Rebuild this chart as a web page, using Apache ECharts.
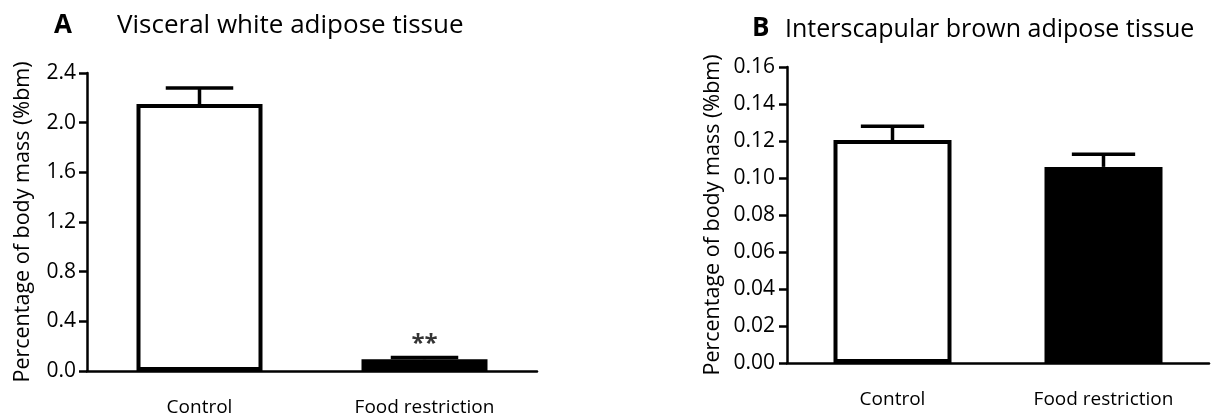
<!DOCTYPE html>
<html><head><meta charset="utf-8">
<script src="https://cdn.jsdelivr.net/npm/echarts@6/dist/echarts.min.js"></script>
<style>html,body{margin:0;padding:0;background:#fff}#c{width:1232px;height:417px}</style>
</head><body><div id="c"></div>
<script>
const categories = ['Control', 'Food restriction'];
// Panel A: visceral white adipose tissue (%bm)
const watMean = [2.15, 0.095];
const watErr = [0.13, 0.013];
const watSig = ['', '**'];
const watTicks = [0, 0.4, 0.8, 1.2, 1.6, 2.0, 2.4];
// Panel B: interscapular brown adipose tissue (%bm)
const batMean = [0.1205, 0.106];
const batErr = [0.0075, 0.0068];
const batTicks = [0, 0.02, 0.04, 0.06, 0.08, 0.10, 0.12, 0.14, 0.16];
const barColors = ['#ffffff', '#000000'];
const yName = 'Percentage of body mass (%bm)';

const FONT = 'Open Sans';
const chart = echarts.init(document.getElementById('c'));

function errItem(params, api) {
  const x = api.value(0), y = api.value(1), e = api.value(2);
  const base = api.coord([x, y]);
  const top = api.coord([x, y + e]);
  const hw = api.size([1, 0])[0] * 0.15;
  const st = {stroke: '#000', lineWidth: 3.5};
  return {type: 'group', children: [
    {type: 'line', shape: {x1: base[0], y1: base[1], x2: top[0], y2: top[1]}, style: st},
    {type: 'line', shape: {x1: top[0] - hw, y1: top[1], x2: top[0] + hw, y2: top[1]}, style: st}
  ]};
}

function xAx(gi) {
  return {
    type: 'category', gridIndex: gi, data: categories,
    axisLine: {lineStyle: {color: '#000', width: 2.5}},
    axisTick: {alignWithLabel: true, length: 9, lineStyle: {color: '#000', width: 2.5}},
    axisLabel: {color: '#000', fontSize: 19, fontFamily: FONT, margin: 27}
  };
}
function yAx(gi, ticks, dec, gap, margin) {
  return {
    type: 'value', gridIndex: gi, min: ticks[0], max: ticks[ticks.length - 1],
    interval: ticks[1] - ticks[0],
    name: yName, nameLocation: 'middle', nameGap: gap,
    nameTextStyle: {color: '#000', fontSize: 21.5, fontFamily: FONT},
    splitLine: {show: false},
    axisLine: {show: true, lineStyle: {color: '#000', width: 2.5}},
    axisTick: {show: true, length: 8, lineStyle: {color: '#000', width: 2.5}},
    axisLabel: {color: '#000', fontSize: 21, fontFamily: FONT, margin: margin,
      formatter: v => v.toFixed(dec)}
  };
}

chart.setOption({
  animation: false,
  title: [
    {text: 'A', left: 49, top: 8, textStyle: {fontSize: 26, fontWeight: 'bold', fontFamily: FONT, color: '#000'}},
    {text: 'Visceral white adipose tissue', left: 112, top: 8, textStyle: {fontSize: 26, fontWeight: 'normal', fontFamily: FONT, color: '#000'}},
    {text: 'B', left: 747, top: 11, textStyle: {fontSize: 26, fontWeight: 'bold', fontFamily: FONT, color: '#000'}},
    {text: 'Interscapular brown adipose tissue', left: 780, top: 12, textStyle: {fontSize: 25, fontWeight: 'normal', fontFamily: FONT, color: '#000'}}
  ],
  grid: [
    {left: 87, right: 695, top: 73, bottom: 45},
    {left: 787, right: 23, top: 67, bottom: 54}
  ],
  xAxis: [xAx(0), xAx(1)],
  yAxis: [yAx(0, watTicks, 1, 53, 11), yAx(1, batTicks, 2, 63, 12)],
  series: [
    {type: 'bar', xAxisIndex: 0, yAxisIndex: 0, barWidth: 126,
     data: watMean.map((v, i) => ({value: v, itemStyle: {color: barColors[i], borderColor: '#000', borderWidth: 4}}))},
    {type: 'custom', xAxisIndex: 0, yAxisIndex: 0, renderItem: errItem,
     data: watMean.map((v, i) => [i, v, watErr[i]]), z: 5},
    {type: 'scatter', xAxisIndex: 0, yAxisIndex: 0, symbolSize: 0,
     data: watMean.map((v, i) => [i, v + watErr[i]]),
     label: {show: true, position: 'top', distance: 1, color: '#000', fontSize: 24, fontFamily: FONT, fontWeight: 'bold',
       formatter: p => watSig[p.dataIndex]}},
    {type: 'bar', xAxisIndex: 1, yAxisIndex: 1, barWidth: 118,
     data: batMean.map((v, i) => ({value: v, itemStyle: {color: barColors[i], borderColor: '#000', borderWidth: 4}}))},
    {type: 'custom', xAxisIndex: 1, yAxisIndex: 1, renderItem: errItem,
     data: batMean.map((v, i) => [i, v, batErr[i]]), z: 5}
  ]
});
</script></body></html>
